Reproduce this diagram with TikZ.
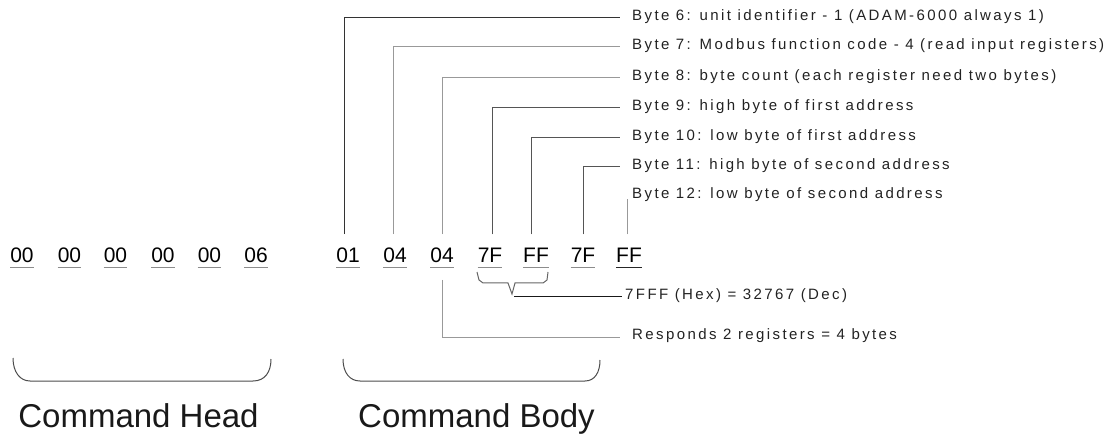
\documentclass[tikz,border=0pt]{standalone}
\usepackage{fontspec}
\setmainfont{Liberation Sans}
\newfontfamily\lblfont[LetterSpace=16]{Liberation Sans}
\definecolor{ldark}{HTML}{333333}
\definecolor{lmid}{HTML}{555555}
\definecolor{llight}{HTML}{999999}
\definecolor{txtc}{HTML}{222222}
\tikzset{
  hexbyte/.style={font=\fontsize{21}{24}\selectfont, inner sep=0pt, anchor=base, text=black},
  uline/.style={draw=black!45, line width=1pt},
  lbl/.style={font=\lblfont\fontsize{15}{18}\selectfont, inner sep=0pt, anchor=mid west, text=txtc},
  conn/.style={line width=1pt},
  captext/.style={font=\fontsize{33}{38}\selectfont, inner sep=0pt, anchor=base, text=black!90},
  brk/.style={draw=black!70, line width=1pt}
}
\begin{document}
\begin{tikzpicture}[x=1pt,y=-1pt]
\useasboundingbox (0,0) rectangle (1115,435);
% hex bytes
\node[hexbyte] (h1) at (22,263) {00};
\node[hexbyte] (h2) at (69.5,263) {00};
\node[hexbyte] (h3) at (115.5,263) {00};
\node[hexbyte] (h4) at (163,263) {00};
\node[hexbyte] (h5) at (209.5,263) {00};
\node[hexbyte] (h6) at (256,263) {06};
\node[hexbyte] (h7) at (348,263) {01};
\node[hexbyte] (h8) at (395,263) {04};
\node[hexbyte] (h9) at (442,263) {04};
\node[hexbyte] (h10) at (490,263) {7F};
\node[hexbyte] (h11) at (536,263) {FF};
\node[hexbyte] (h12) at (583,263) {7F};
\node[hexbyte] (h13) at (629,263) {FF};
\foreach \n in {1,...,12}
  \draw[uline] ([yshift=-5pt]h\n.base west) -- ([yshift=-5pt]h\n.base east);
\draw[uline, draw=black!85] ([yshift=-5pt]h13.base west) -- ([yshift=-5pt]h13.base east);
% labels
\node[lbl] (b6) at (632,18) {Byte 6: unit identifier - 1 (ADAM-6000 always 1)};
\node[lbl] (b7) at (632,47) {Byte 7: Modbus function code - 4 (read input registers)};
\node[lbl] (b8) at (632,78) {Byte 8: byte count (each register need two bytes)};
\node[lbl] (b9) at (632,108) {Byte 9: high byte of first address};
\node[lbl] (b10) at (632,138) {Byte 10: low byte of first address};
\node[lbl] (b11) at (632,167) {Byte 11: high byte of second address};
\node[lbl] (b12) at (632,196) {Byte 12: low byte of second address};
\node[lbl] (hexdec) at (625,297) {7FFF (Hex) = 32767 (Dec)};
\node[lbl] (resp) at (632,337) {Responds 2 registers = 4 bytes};
% connectors
\draw[conn, draw=ldark] ([xshift=-4pt,yshift=14pt]h7.north) |- ([xshift=-12pt]b6.mid west);
\draw[conn, draw=llight] ([xshift=-2pt,yshift=14pt]h8.north) |- ([xshift=-12pt]b7.mid west);
\draw[conn, draw=llight] ([yshift=14pt]h9.north) |- ([xshift=-12pt]b8.mid west);
\draw[conn, draw=lmid] ([xshift=2pt,yshift=14pt]h10.north) |- ([xshift=-12pt]b9.mid west);
\draw[conn, draw=lmid] ([xshift=-5pt,yshift=14pt]h11.north) |- ([xshift=-12pt]b10.mid west);
\draw[conn, draw=lmid] ([yshift=14pt]h12.north) |- ([xshift=-12pt]b11.mid west);
\draw[conn, draw=llight] ([xshift=-2pt,yshift=14pt]h13.north) -- ([xshift=-2pt]h13.north |- b12.base);
% brace under 7F FF
\coordinate (vtip) at (512,294);
\draw[brk, draw=black!60] (477,272) -- (479,280) -- (483,283) -- (508,283) -- (vtip) -- (515,283) -- (543,283) -- (547,280) -- (548,272);
\draw[conn, draw=black!90] ([xshift=2pt,yshift=-3pt]vtip) -- ([xshift=-3pt]hexdec.mid west);
\draw[conn, draw=llight] ([yshift=-17pt]h9.base) |- ([xshift=-12pt]resp.mid west);
% command braces
\draw[brk] (13,358) .. controls (13,372) and (20,381) .. (30,381) -- (253,381) .. controls (265,381) and (271,372) .. (271,359);
\draw[brk] (343,359) .. controls (343,373) and (350,381) .. (360,381) -- (585,381) .. controls (595,381) and (600,372) .. (600,360);
\node[captext] (chead) at (138.5,427) {Command Head};
\node[captext] (cbody) at (476.5,427) {Command Body};
\end{tikzpicture}
\end{document}
